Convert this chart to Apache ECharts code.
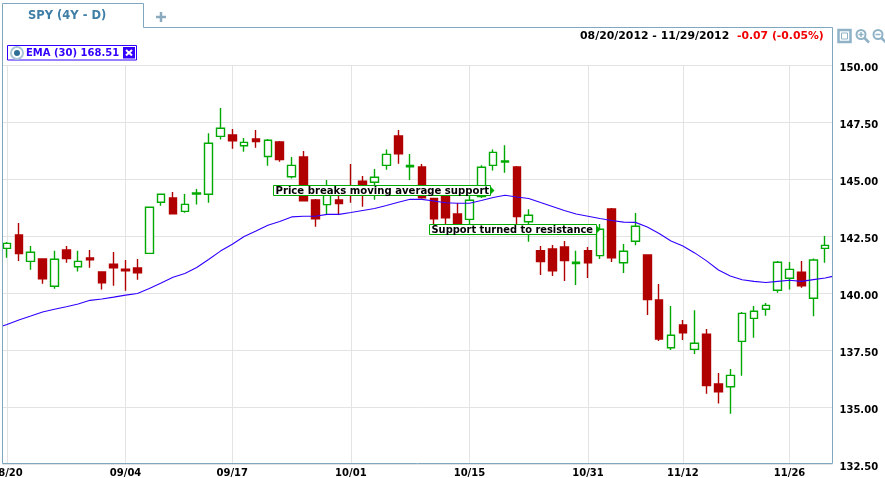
<!DOCTYPE html>
<html>
<head>
<meta charset="utf-8">
<style>html,body{margin:0;padding:0;background:#fff;overflow:hidden}#c{width:885px;height:478px}</style>
<script src="https://cdn.jsdelivr.net/npm/echarts@6/dist/echarts.min.js"></script>
</head>
<body>
<div id="c"></div>
<script>
// x position (trading-day number) of each dated tick
const tickIndex = [0, 10, 19, 29, 39, 49, 57, 66];
const tickLabels = ['08/20', '09/04', '09/17', '10/01', '10/15', '10/31', '11/12', '11/26'];
const priceTicks = [132.5, 135, 137.5, 140, 142.5, 145, 147.5, 150];

const opens = [141.98,142.57,141.41,141.51,140.32,141.91,141.17,141.56,140.94,141.29,141.07,141.12,141.76,144.00,144.19,143.60,144.36,144.35,146.89,146.95,146.48,146.78,146.01,146.65,145.12,145.99,144.10,143.90,144.10,144.63,144.93,144.88,145.62,146.91,145.56,145.55,144.17,144.32,143.49,143.25,144.25,145.62,145.77,145.55,143.15,141.88,141.95,142.04,141.31,141.88,141.66,143.71,141.35,142.29,141.69,139.72,137.62,138.62,137.55,138.22,136.03,135.91,137.90,138.91,139.31,140.14,140.67,140.93,139.79,141.98];
const closes = [142.20,141.75,141.81,140.65,141.50,141.53,141.41,141.48,140.47,141.13,141.00,140.91,143.78,144.35,143.50,143.91,144.41,146.59,147.25,146.70,146.63,146.66,146.72,145.87,145.62,144.07,143.28,144.32,143.94,144.50,144.54,145.10,146.10,146.13,145.62,144.20,143.28,143.32,143.05,144.09,145.54,146.19,145.81,143.37,143.43,141.40,141.00,141.44,141.37,141.35,142.82,141.57,141.85,142.95,139.73,138.00,138.17,138.28,137.82,135.96,135.69,136.41,139.13,139.22,139.48,141.37,141.06,140.34,141.47,142.11];
const lows = [141.57,141.42,141.04,140.43,140.21,141.35,140.96,141.13,140.17,140.34,140.12,140.60,141.76,143.85,143.50,143.54,143.90,143.98,146.75,146.35,146.22,146.39,145.60,145.78,145.04,144.06,142.93,143.49,143.49,143.98,143.81,144.11,145.43,145.69,144.98,144.16,143.00,143.05,142.96,143.05,144.19,145.39,145.30,143.00,142.27,140.81,140.77,140.55,140.37,140.68,141.51,141.38,140.90,142.12,139.06,137.92,137.52,137.96,137.35,135.60,135.17,134.73,136.39,138.06,139.02,140.03,140.17,140.25,139.00,141.35];
const highs = [142.26,143.09,142.08,141.51,141.88,142.08,141.88,141.91,140.94,141.82,141.47,141.51,143.78,144.39,144.45,144.36,144.58,147.03,148.14,147.22,146.82,147.17,146.78,146.69,145.99,146.25,144.15,144.98,144.54,145.68,145.15,145.46,146.32,147.17,146.12,145.68,144.17,144.32,143.97,144.32,145.62,146.32,146.50,145.59,143.69,142.08,142.13,142.30,141.88,142.04,143.05,143.75,142.17,143.53,141.69,140.42,139.45,138.84,139.27,138.44,136.51,136.69,139.19,139.45,139.58,141.43,141.38,141.43,141.54,142.52];

// EMA (30): one reading at each trading day, plus the frame edges on both sides
const emaX = [-0.38,0,1,2,3,4,5,6,7,8,9,10,11,12,13,14,15,16,17,18,19,20,21,22,23,24,25,26,27,28,29,30,31,32,33,34,35,36,37,38,39,40,41,42,43,44,45,46,47,48,49,50,51,52,53,54,55,56,57,58,59,60,61,62,63,64,65,66,67,68,69,69.62];
const emaValues = [138.57,138.64,138.84,139.01,139.19,139.31,139.42,139.54,139.70,139.76,139.84,139.93,140.00,140.22,140.46,140.71,140.88,141.14,141.49,141.86,142.16,142.50,142.74,142.99,143.16,143.36,143.39,143.39,143.47,143.47,143.55,143.64,143.73,143.86,144.00,144.13,144.13,144.06,143.98,143.96,143.96,144.08,144.21,144.31,144.23,144.17,143.99,143.82,143.64,143.49,143.39,143.29,143.20,143.13,143.12,142.92,142.63,142.30,142.08,141.78,141.43,141.03,140.77,140.60,140.53,140.48,140.53,140.58,140.53,140.61,140.68,140.75];

const GREEN = '#00a900', RED = '#b00000', BLUE = '#3300ff', FRAME = '#7fa8bf', GRIDC = '#e3e3e3', ICON = '#8fb2c6';
const FONT = '"DejaVu Sans", Verdana, sans-serif';

const candles = opens.map((o, i) => [i, o, closes[i], lows[i], highs[i]]);
const ema = emaX.map((x, i) => [x, emaValues[i]]);

function line(x1, y1, x2, y2, stroke, lineWidth, z) {
  return {type: 'line', z: z || 100, silent: true, shape: {x1, y1, x2, y2}, style: {stroke, lineWidth: lineWidth || 1}};
}
function txt(text, x, y, fill, font, align) {
  return {type: 'text', z: 103, silent: true, x, y, style: {text, fill, font: font || ('bold 10px ' + FONT), align: align || 'left', verticalAlign: 'middle'}};
}
function note(text, left, right, top, bottom, size) {
  const mid = (top + bottom) / 2;
  return [
    {type: 'rect', z: 100, silent: true, shape: {x: left, y: top, width: right - left, height: bottom - top}, style: {fill: '#fff', stroke: GREEN, lineWidth: 1}},
    {type: 'polygon', z: 100, silent: true, shape: {points: [[right, mid - 4], [right + 4, mid], [right, mid + 4]]}, style: {fill: GREEN}},
    txt(text, left + 2, mid + 0.5, '#000', 'bold ' + size + 'px ' + FONT)
  ];
}
function glass(cx, cy, minus) {
  const parts = [
    line(cx + 3.5, cy + 3.5, cx + 8, cy + 8, ICON, 2.5, 100),
    {type: 'circle', z: 101, silent: true, shape: {cx, cy, r: 4.5}, style: {fill: '#fff', stroke: ICON, lineWidth: 2}},
    line(cx - 2.5, cy, cx + 2.5, cy, ICON, 1.5, 102)
  ];
  if (!minus) parts.push(line(cx, cy - 2.5, cx, cy + 2.5, ICON, 1.5, 102));
  return parts;
}

const elements = [
  // tab and frame
  {type: 'polyline', z: 100, silent: true, shape: {points: [[2.5, 463.5], [2.5, 3.5], [143.5, 3.5], [143.5, 27.5], [832.5, 27.5], [832.5, 463.5], [2.5, 463.5]]}, style: {stroke: FRAME, fill: null, lineWidth: 1}},
  txt('SPY (4Y - D)', 28, 16, '#3f7ea6', 'bold 11.5px ' + FONT),
  line(156, 17, 166, 17, '#8aabbf', 2.5),
  line(161, 12, 161, 22, '#8aabbf', 2.5),
  // date range
  txt('08/20/2012 - 11/29/2012', 580, 36, '#000', 'bold 10.9px ' + FONT),
  txt('-0.07 (-0.05%)', 737, 36, '#f00000', 'bold 10.8px ' + FONT),
  // indicator legend
  {type: 'rect', z: 100, silent: true, shape: {x: 7.5, y: 45.5, width: 129, height: 14.5}, style: {fill: '#fff', stroke: BLUE, lineWidth: 1}},
  {type: 'circle', z: 101, silent: true, shape: {cx: 17, cy: 53, r: 6}, style: {fill: '#fff', stroke: '#a9c6d6', lineWidth: 2}},
  {type: 'circle', z: 102, silent: true, shape: {cx: 17, cy: 53, r: 3}, style: {fill: '#2f6f96'}},
  txt('EMA (30) 168.51', 26, 53.5, BLUE),
  {type: 'rect', z: 101, silent: true, shape: {x: 123, y: 47, width: 12, height: 11.5}, style: {fill: BLUE}},
  line(126, 50, 132, 55.5, '#fff', 2, 102),
  line(132, 50, 126, 55.5, '#fff', 2, 102),
  // toolbar
  {type: 'rect', z: 100, silent: true, shape: {x: 838.5, y: 30, width: 12, height: 12}, style: {fill: '#fff', stroke: ICON, lineWidth: 2.5}},
  {type: 'rect', z: 101, silent: true, shape: {x: 841.5, y: 33, width: 6, height: 6}, style: {fill: '#fff', stroke: ICON, lineWidth: 1}},
  ...glass(861, 34.5, false),
  ...glass(878, 34.5, true),
  // annotations
  ...note('Price breaks moving average support', 273.5, 490.5, 185.5, 195.5, 10.1),
  ...note('Support turned to resistance', 429.5, 596.5, 224.5, 234.5, 9.9)
];

const chart = echarts.init(document.getElementById('c'), null, {renderer: 'canvas'});
chart.setOption({
  animation: false,
  backgroundColor: '#fff',
  grid: {left: 2.5, right: 52.5, top: 65.5, height: 399, containLabel: false, outerBoundsMode: 'none'},
  xAxis: {
    type: 'value', min: -0.38, max: 69.62, containShape: false,
    axisLine: {show: false},
    axisTick: {show: false, customValues: tickIndex},
    axisLabel: {
      customValues: tickIndex, margin: 4, color: '#000', fontFamily: FONT, fontWeight: 'bold', fontSize: 10,
      hideOverlap: false, showMinLabel: true, showMaxLabel: true,
      formatter: v => tickLabels[tickIndex.indexOf(v)] || ''
    },
    splitLine: {show: true, lineStyle: {color: GRIDC, width: 1}}
  },
  yAxis: {
    type: 'value', position: 'right', min: priceTicks[0], max: priceTicks[priceTicks.length - 1], interval: 2.5, scale: true,
    axisLine: {show: false}, axisTick: {show: false},
    axisLabel: {margin: 7, color: '#000', fontFamily: FONT, fontWeight: 'bold', fontSize: 10, verticalAlign: 'top', lineHeight: 5, formatter: v => v.toFixed(2), showMinLabel: true, showMaxLabel: true},
    splitLine: {show: true, lineStyle: {color: GRIDC, width: 1}}
  },
  series: [
    {
      type: 'candlestick', data: candles, encode: {x: 0, y: [1, 2, 3, 4]}, barWidth: 8, z: 2, silent: true,
      itemStyle: {color: '#fff', color0: RED, borderColor: GREEN, borderColor0: RED, borderWidth: 1.4}
    },
    {
      type: 'line', data: ema, showSymbol: false, symbol: 'none', z: 3, silent: true, smooth: false,
      lineStyle: {color: BLUE, width: 1.1}
    }
  ],
  graphic: {elements}
});
</script>
</body>
</html>
